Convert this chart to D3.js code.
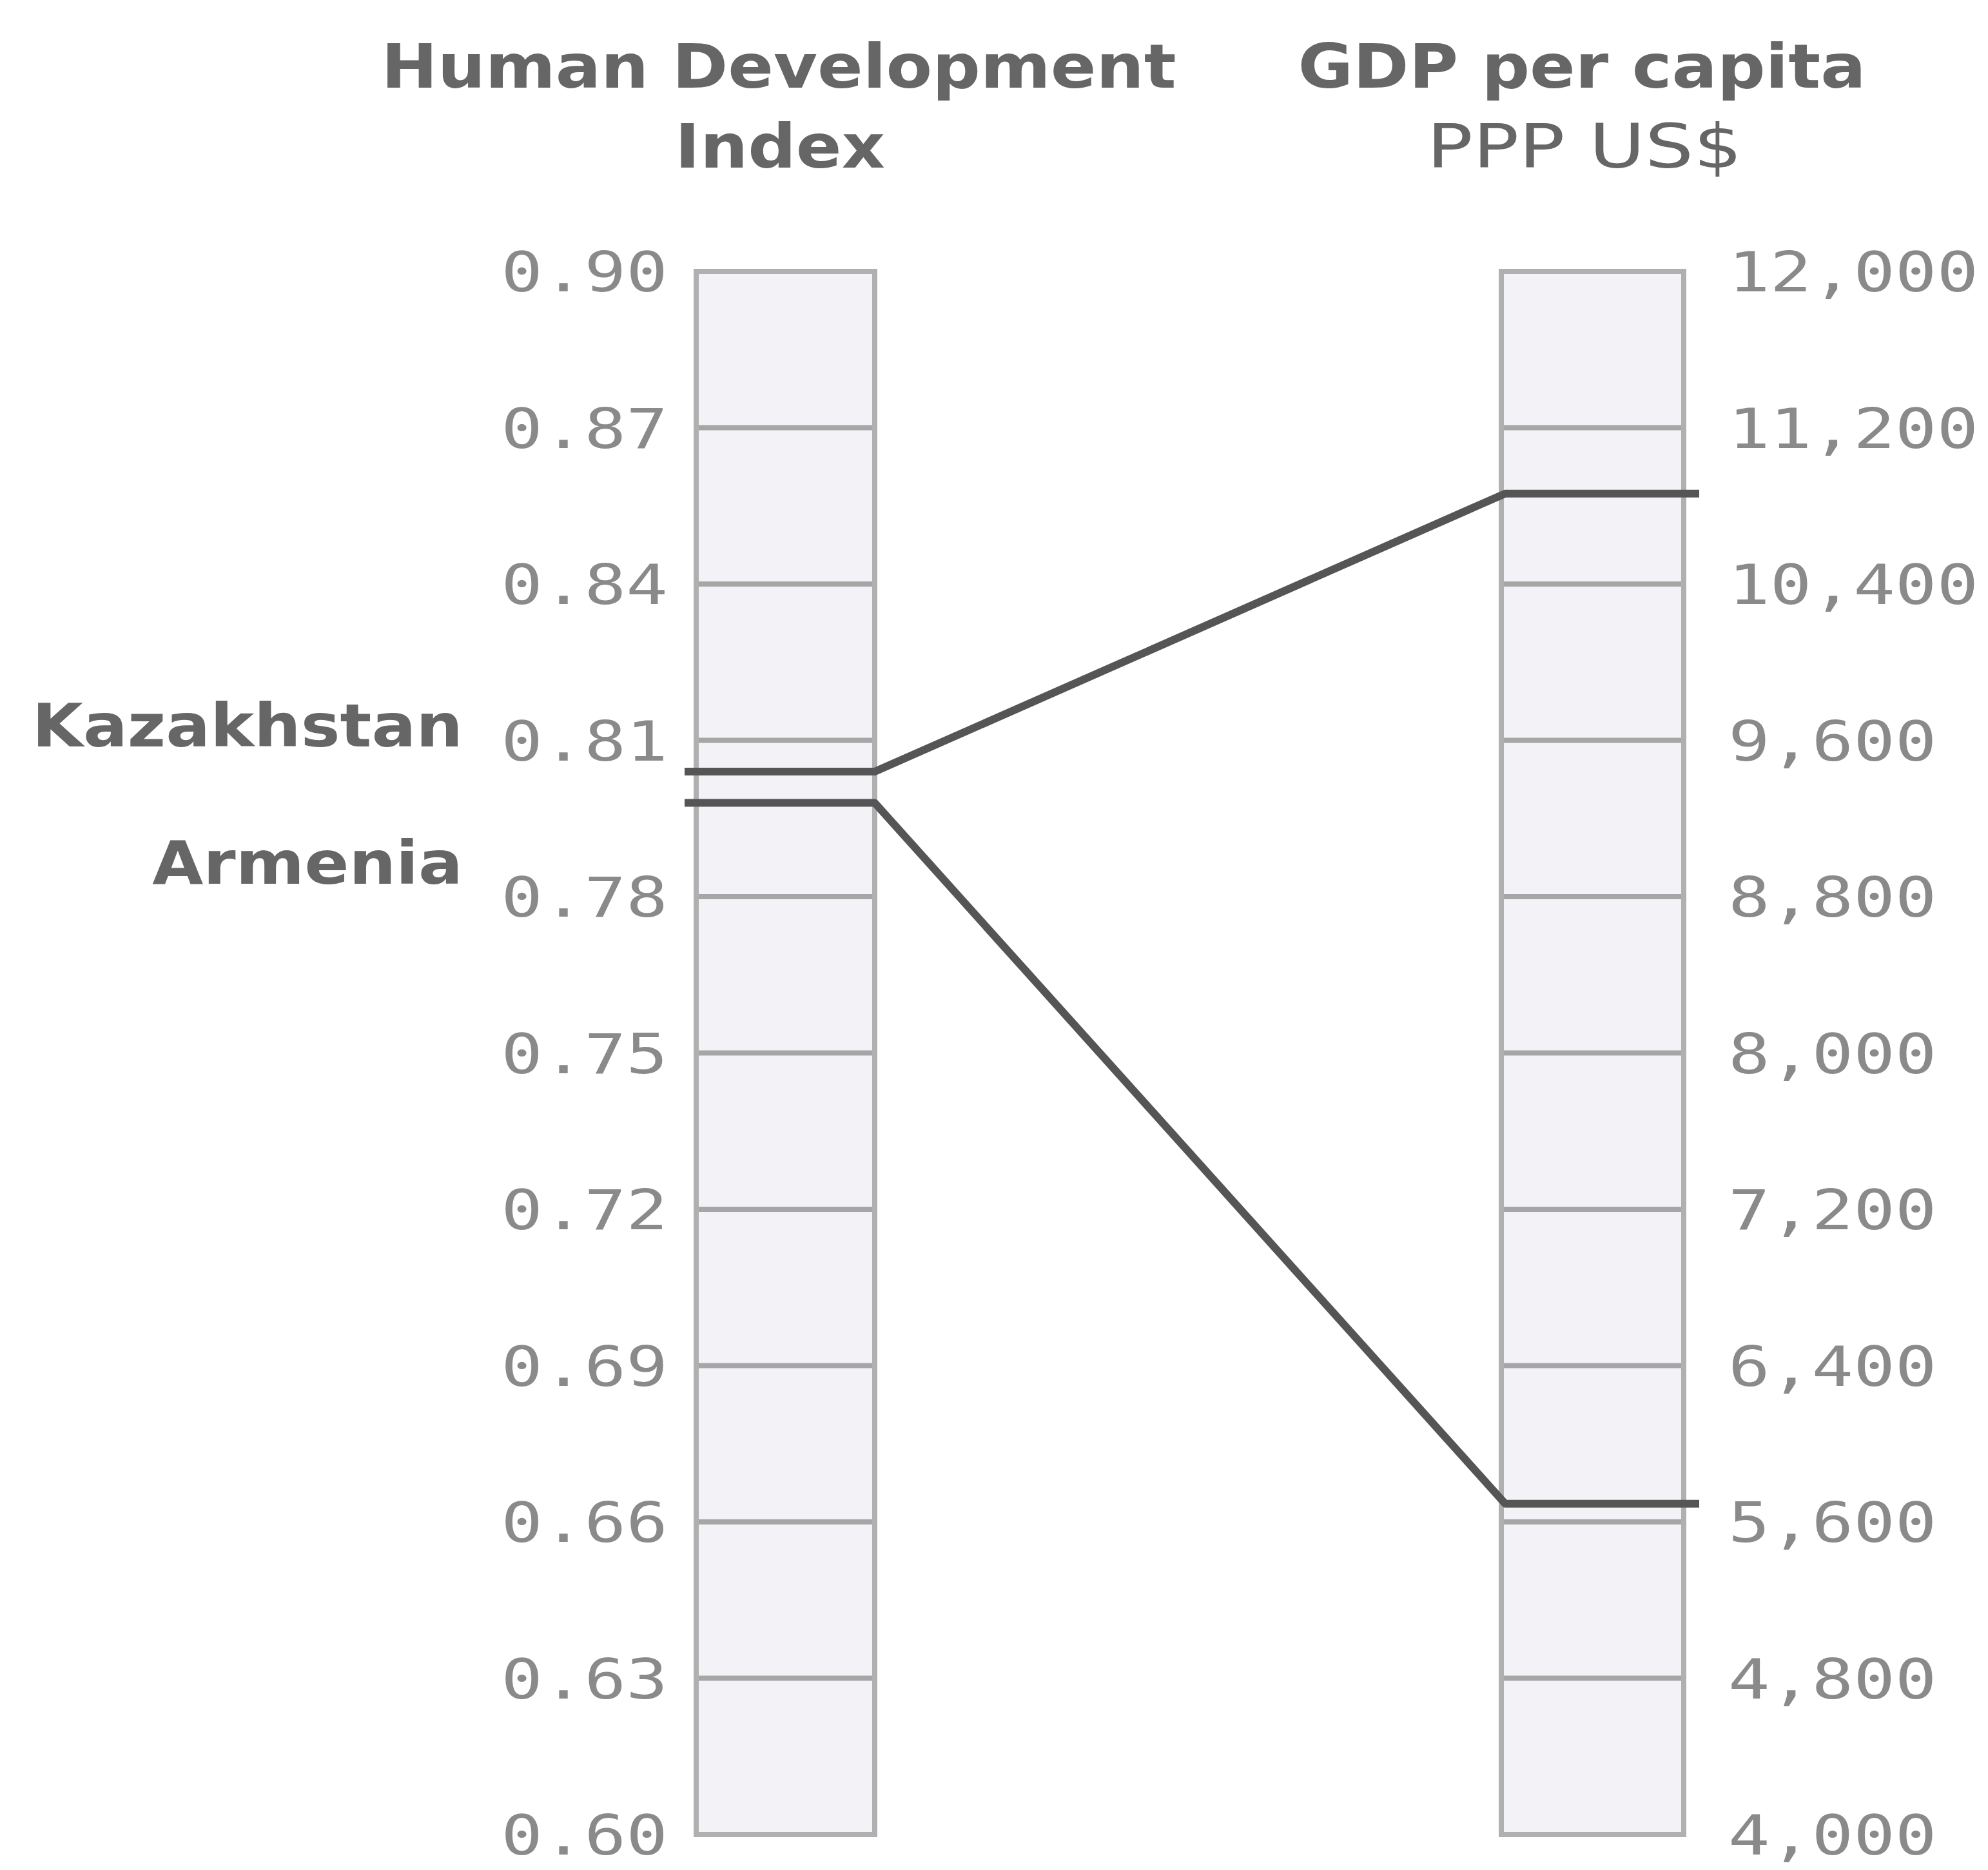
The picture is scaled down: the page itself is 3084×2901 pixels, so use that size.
<!DOCTYPE html>
<html>
<head>
<meta charset="utf-8">
<script src="https://cdn.jsdelivr.net/npm/d3@7"></script>
<style>
  body { margin: 0; background: #fff; }
</style>
</head>
<body>
<div id="canvas"></div>
<script>
(function(d3){

  // data
  var countries = ['Kazakhstan', 'Armenia'],
      hdiValues = [0.804, 0.798],
      gdpValues = [10863, 5693],
      hdiTicks = [0.60, 0.63, 0.66, 0.69, 0.72, 0.75, 0.78, 0.81, 0.84, 0.87, 0.90],
      gdpTicks = [4000, 4800, 5600, 6400, 7200, 8000, 8800, 9600, 10400, 11200, 12000];

  var canvas_d = {width: 3084, height: 2901},
      top = 421, bottom = 2846,
      leftBar = {x: 1080, w: 277},
      rightBar = {x: 2329, w: 283},
      sx = 1.11,            // the picture's text is wide, stretch it a bit
      monoSx = 1.25,
      titleColor = '#666',
      tickColor = '#8a8a8a',
      canvas, yL, yR;

  yL = d3.scaleLinear().domain([0.60, 0.90]).range([bottom, top]);
  yR = d3.scaleLinear().domain([4000, 12000]).range([bottom, top]);

  canvas = d3.select('#canvas').append('svg')
      .attr('width', canvas_d.width)
      .attr('height', canvas_d.height)
      .style('background', '#fff');

  /**
   * Titles.
   */
  function title(x, y, txt, bold, s) {
    canvas.append('text')
        .attr('transform', 'translate(' + x + ',' + y + ') scale(' + (s || sx) + ',1)')
        .attr('text-anchor', 'middle')
        .style('font-family', '"DejaVu Sans", Verdana, sans-serif')
        .style('font-size', '94px')
        .style('font-weight', bold ? 'bold' : 'normal')
        .style('fill', titleColor)
        .text(txt);
  }
  title(1208, 136, 'Human Development', true);
  title(1210, 260, 'Index', true);
  title(2454, 136, 'GDP per capita', true);
  title(2458, 260, 'PPP US$', false, 1.26);

  /**
   * Bars with tick lines.
   */
  function bar(b, ticks, y) {
    canvas.append('rect')
        .attr('x', b.x).attr('y', top)
        .attr('width', b.w).attr('height', bottom - top)
        .style('fill', '#f3f2f7')
        .style('stroke', '#b0b0b0')
        .style('stroke-width', 8);

    canvas.selectAll(null)
        .data(ticks.slice(1, -1))
      .enter().append('line')
        .attr('x1', b.x + 4).attr('x2', b.x + b.w - 4)
        .attr('y1', function(d){ return y(d); })
        .attr('y2', function(d){ return y(d); })
        .style('stroke', '#a6a6a6')
        .style('stroke-width', 8);
  }
  bar(leftBar, hdiTicks, yL);
  bar(rightBar, gdpTicks, yR);

  /**
   * Axes (labels only).
   */
  var axL = canvas.append('g')
      .attr('transform', 'translate(' + (leftBar.x - 44) + ',0)')
      .call(d3.axisLeft(yL).tickValues(hdiTicks).tickFormat(d3.format('.2f')).tickSize(0).tickPadding(0));
  var axR = canvas.append('g')
      .attr('transform', 'translate(' + (rightBar.x + rightBar.w + 69) + ',0)')
      .call(d3.axisRight(yR).tickValues(gdpTicks).tickFormat(d3.format(',')).tickSize(0).tickPadding(0));

  [axL, axR].forEach(function(ax){
    ax.select('.domain').remove();
    ax.selectAll('text')
        .attr('x', 0)
        .attr('dy', '0.36em')
        .attr('transform', 'scale(' + monoSx + ',1)')
        .style('font-family', '"DejaVu Sans Mono", monospace')
        .style('font-size', '86px')
        .style('fill', tickColor);
  });

  /**
   * Country lines.
   */
  var line = d3.line();
  canvas.selectAll('path.country')
      .data(countries)
    .enter().append('path')
      .attr('class', 'country')
      .attr('d', function(d, i){
        var a = yL(hdiValues[i]), b = yR(gdpValues[i]);
        return line([
          [leftBar.x - 18, a], [leftBar.x + leftBar.w, a],
          [rightBar.x + 6, b], [rightBar.x + rightBar.w + 24, b]
        ]);
      })
      .style('fill', 'none')
      .style('stroke', '#555')
      .style('stroke-width', 12)
      .style('stroke-linejoin', 'round');

  var labelDy = [-72, 92];
  canvas.selectAll('text.country')
      .data(countries)
    .enter().append('text')
      .attr('class', 'country')
      .attr('transform', function(d, i){
        return 'translate(718,' + (yL(hdiValues[i]) + labelDy[i]) + ') scale(' + sx + ',1)';
      })
      .attr('dy', '0.36em')
      .attr('text-anchor', 'end')
      .style('font-family', '"DejaVu Sans", Verdana, sans-serif')
      .style('font-size', '92px')
      .style('font-weight', 'bold')
      .style('fill', titleColor)
      .text(function(d){ return d; });

})(d3);
</script>
</body>
</html>
